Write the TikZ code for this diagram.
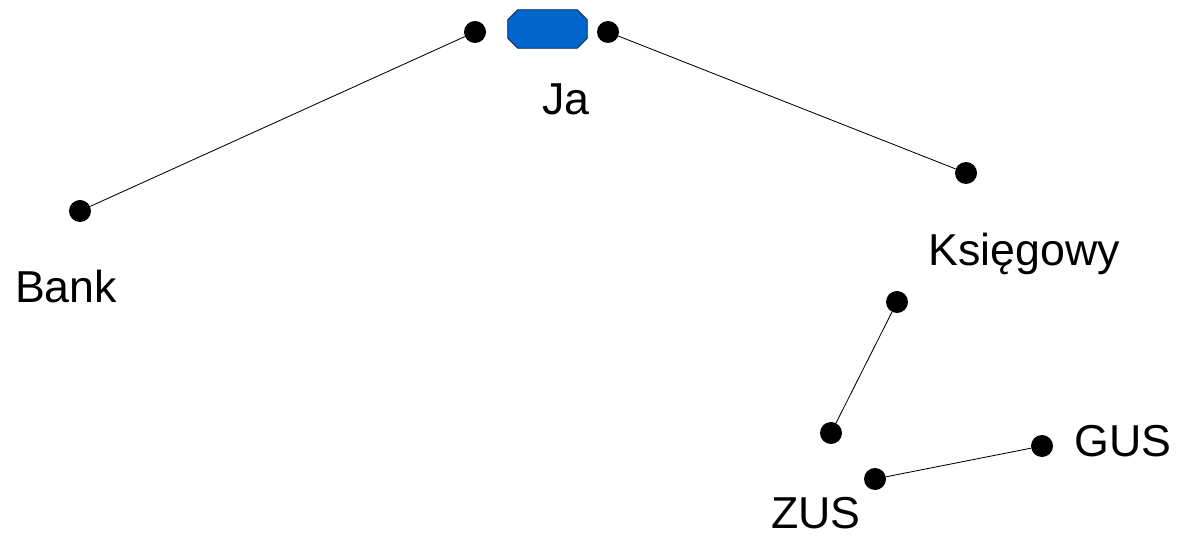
\documentclass[tikz,border=0pt]{standalone}
\usepackage{fontspec}
\setmainfont{Liberation Sans}
\definecolor{mebblue}{RGB}{0, 102, 204}
\definecolor{mebedge}{RGB}{20, 40, 80}

\begin{document}
\begin{tikzpicture}[x=0.025cm, y=-0.025cm,
  dot/.style={circle, fill=black, inner sep=0pt, minimum size=0.55cm},
  link/.style={draw=black, line width=0.6pt},
  lbl/.style={anchor=base, inner sep=0pt, font=\fontsize{31.8}{38}\selectfont}]
  \useasboundingbox (0,0) rectangle (1179,537);

  % Me
  \node[inner sep=0pt, minimum width=1.975cm, minimum height=0.95cm] (ja) at (547.5, 29) {};
  \filldraw[draw=mebedge, fill=mebblue, line width=0.6pt]
    ([xshift=0.25cm]ja.north west) -- ([xshift=-0.25cm]ja.north east)
    -- ([yshift=-0.25cm]ja.north east) -- ([yshift=0.25cm]ja.south east)
    -- ([xshift=-0.25cm]ja.south east) -- ([xshift=0.25cm]ja.south west)
    -- ([yshift=0.25cm]ja.south west) -- ([yshift=-0.25cm]ja.north west) -- cycle;
  \node[dot] (jaL) at (475, 32) {};
  \node[dot] (jaR) at (608, 32) {};
  \node[lbl] (jaT) at (566, 115) {Ja};

  % Bank
  \node[dot] (bank) at (80, 211) {};
  \node[lbl] (bankT) at (66, 303) {Bank};

  % Accountant
  \node[dot] (ksieg) at (966, 173) {};
  \node[lbl] (ksiegT) at (1024, 266) {Księgowy};

  % Offices
  \node[dot] (midA) at (897, 302) {};
  \node[dot] (midB) at (831, 433) {};
  \node[dot] (zus) at (875, 479) {};
  \node[lbl] (zusT) at (816, 528) {ZUS};
  \node[dot] (gus) at (1042, 446) {};
  \node[lbl] (gusT) at (1123, 456) {GUS};

  % Links
  \draw[link] (bank) -- (jaL);
  \draw[link] (jaR) -- (ksieg);
  \draw[link] (midA) -- (midB);
  \draw[link] (zus) -- (gus);
\end{tikzpicture}
\end{document}
